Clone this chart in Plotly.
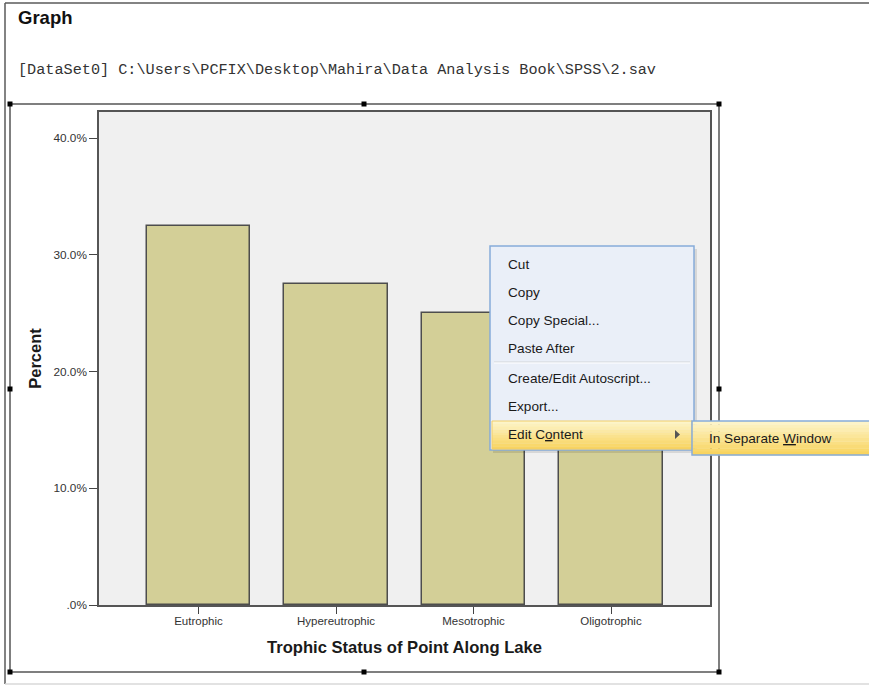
import plotly.graph_objects as go

# Frequency of each trophic status category (percent of sampled points)
categories = ["Eutrophic", "Hypereutrophic", "Mesotrophic", "Oligotrophic"]
percents = [32.5, 27.5, 25.0, 15.0]
y_tick_values = [0, 10, 20, 30, 40]
y_tick_labels = [".0%", "10.0%", "20.0%", "30.0%", "40.0%"]
menu_items = ["Cut", "Copy", "Copy Special...", "Paste After",
              "Create/Edit Autoscript...", "Export...", "Edit C<u>o</u>ntent"]
submenu_items = ["In Separate <u>W</u>indow"]

W, H = 869, 687
L, R, T, B = 99, 710, 112, 605          # plot area in page pixels


def px(x):
    return (x - L) / (R - L)


def py(y):
    return (B - y) / (B - T)


def rect(x0, y0, x1, y1, fill=None, line=None, lw=1.0):
    return dict(type="rect", xref="paper", yref="paper",
                x0=px(x0), x1=px(x1), y0=py(y1), y1=py(y0),
                fillcolor=fill if fill else "rgba(0,0,0,0)",
                line=dict(color=line if line else "rgba(0,0,0,0)", width=lw if line else 0),
                layer="above")


def hline(x0, x1, y, color, lw=1.0):
    return dict(type="line", xref="paper", yref="paper",
                x0=px(x0), x1=px(x1), y0=py(y), y1=py(y),
                line=dict(color=color, width=lw), layer="above")


def vline(x, y0, y1, color, lw=1.0):
    return dict(type="line", xref="paper", yref="paper",
                x0=px(x), x1=px(x), y0=py(y0), y1=py(y1),
                line=dict(color=color, width=lw), layer="above")


fig = go.Figure(go.Bar(
    x=categories, y=percents, width=0.75,
    marker=dict(color="#d3cf97", line=dict(color="#4d4d4d", width=1.5)),
    hoverinfo="skip",
))

shapes = []
# viewer window edges
shapes.append(hline(5, W, 3, "#5a5a5a", 1.5))
shapes.append(vline(5, 3, 684, "#5a5a5a", 1.5))
shapes.append(hline(5, W, 684, "#d8d8d8", 1.5))

# selection frame around the chart object with its sizing handles
shapes.append(rect(10, 104, 719, 672, line="#555555", lw=1.5))
for hx in (10, 364, 719):
    for hy in (104, 389, 672):
        if hx == 364 and hy == 389:
            continue
        shapes.append(rect(hx - 2.5, hy - 2.5, hx + 2.5, hy + 2.5, fill="#000000"))

# context menu
mx0, my0, mx1, my1 = 490, 246, 694, 450
shapes.append(rect(mx0 + 3, my0 + 3, mx1 + 3, my1 + 3, fill="rgba(0,0,0,0.10)"))
shapes.append(rect(mx0, my0, mx1, my1, fill="#eaeff8", line="#86acd9", lw=1.5))
shapes.append(hline(mx0 + 4, mx1 - 4, 362, "#d2d4d8", 1))
shapes.append(hline(mx0 + 4, mx1 - 4, 363, "#ffffff", 1))


def yellow_band(x0, y0, x1, y1, n=10):
    out = []
    top = (253, 244, 200)
    bot = (248, 212, 96)
    h = (y1 - y0) / n
    for i in range(n):
        t = i / (n - 1)
        c = tuple(int(round(top[k] + (bot[k] - top[k]) * t)) for k in range(3))
        out.append(rect(x0, y0 + i * h, x1, y0 + (i + 1) * h + 0.3,
                        fill="rgb(%d,%d,%d)" % c))
    return out


# highlighted "Edit Content" row
shapes += yellow_band(mx0 + 2, 421, mx1 - 2, 449)
shapes.append(rect(mx0 + 2, 421, mx1 - 2, 449, line="#f1cd6a", lw=1))
# submenu arrow
shapes.append(dict(type="path", xref="paper", yref="paper",
                   path="M %f,%f L %f,%f L %f,%f Z" % (px(675), py(430), px(675), py(439),
                                                       px(680), py(434.5)),
                   fillcolor="#555555", line=dict(width=0), layer="above"))
# submenu
sx0, sy0, sx1, sy1 = 692, 421, 872, 455
shapes += yellow_band(sx0, sy0, sx1, sy1)
shapes.append(rect(sx0, sy0, sx1, sy1, line="#86acd9", lw=1.5))

annotations = []
annotations.append(dict(text="<b>Graph</b>", x=px(16), y=py(18), xref="paper", yref="paper",
                        xanchor="left", yanchor="middle", showarrow=False,
                        font=dict(family="Liberation Sans, Arial", size=18.5, color="#111111")))
annotations.append(dict(text="[DataSet0] C:\\Users\\PCFIX\\Desktop\\Mahira\\Data Analysis Book\\SPSS\\2.sav",
                        x=px(16), y=py(70), xref="paper", yref="paper",
                        xanchor="left", yanchor="middle", showarrow=False,
                        font=dict(family="Liberation Mono, Courier New", size=15.2, color="#333333")))

item_y = [264, 292, 320, 348, 378, 406, 434]
for label, yy in zip(menu_items, item_y):
    annotations.append(dict(text=label, x=px(506), y=py(yy), xref="paper", yref="paper",
                            xanchor="left", yanchor="middle", showarrow=False,
                            font=dict(family="Liberation Sans, Arial", size=13.6, color="#1a1a1a")))
for label in submenu_items:
    annotations.append(dict(text=label, x=px(707), y=py(438), xref="paper", yref="paper",
                            xanchor="left", yanchor="middle", showarrow=False,
                            font=dict(family="Liberation Sans, Arial", size=13.6, color="#1a1a1a")))

fig.update_layout(
    width=W, height=H,
    margin=dict(l=L, r=W - R, t=T, b=H - B, pad=0),
    paper_bgcolor="#ffffff",
    plot_bgcolor="#f0f0f0",
    showlegend=False,
    bargap=0,
    shapes=shapes,
    annotations=annotations,
    xaxis=dict(
        type="category", range=[-0.7236, 3.72],
        showline=True, mirror=True, linecolor="#555555", linewidth=1.5,
        ticks="outside", ticklen=7, tickcolor="#444444", tickwidth=1,
        ticklabelstandoff=-3,
        showgrid=False, zeroline=False,
        tickfont=dict(family="Liberation Sans, Arial", size=11.5, color="#333333"),
        title=dict(text="<b>Trophic Status of Point Along Lake</b>", standoff=16,
                   font=dict(family="Liberation Sans, Arial", size=16.6, color="#1a1a1a")),
    ),
    yaxis=dict(
        range=[0, 42.23], tickvals=y_tick_values, ticktext=y_tick_labels,
        showline=True, mirror=True, linecolor="#555555", linewidth=1.5,
        ticks="outside", ticklen=8, tickcolor="#444444", tickwidth=1,
        showgrid=False, zeroline=False,
        tickfont=dict(family="Liberation Sans, Arial", size=11.8, color="#333333"),
        title=dict(text="<b>Percent</b>", standoff=8,
                   font=dict(family="Liberation Sans, Arial", size=16.5, color="#1a1a1a")),
    ),
)

fig.write_html("out.html")
